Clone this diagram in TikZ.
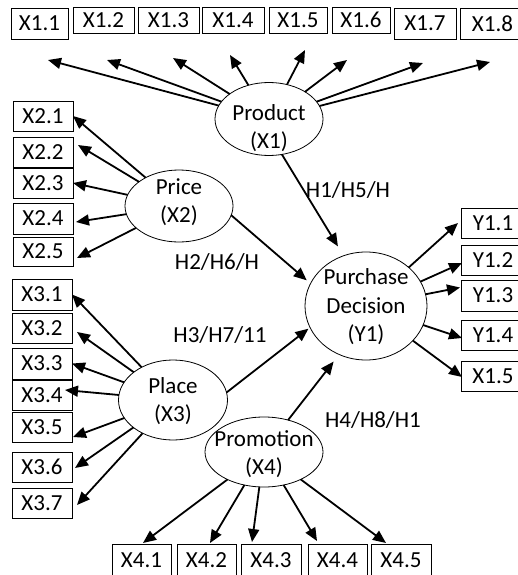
\documentclass[tikz,border=0pt]{standalone}
\usepackage{fontspec}
\setmainfont{Carlito}
\usetikzlibrary{shapes.geometric,arrows.meta}
\begin{document}
\begin{tikzpicture}[x=1pt,y=-1pt,
  box/.style={draw, line width=0.8pt, inner sep=0pt, outer sep=0pt, font=\fontsize{23}{28}\selectfont},
  ell/.style={draw, ellipse, line width=0.8pt, inner sep=0pt, outer sep=0pt},
  lbl/.style={inner sep=0pt, align=center, font=\fontsize{23}{28.5}\selectfont},
  arr/.style={line width=1.8pt, -{Triangle[length=13pt,width=11pt]}},
]
\useasboundingbox (0,0) rectangle (517,575);

% ---------- latent variables ----------
\node[ell, minimum width=108pt, minimum height=73pt] (product) at (269,119) {};
\node[lbl] (productT) at (269,128) {Product\\(X1)};
\node[ell, minimum width=108pt, minimum height=72pt] (price) at (179,206) {};
\node[lbl] (priceT) at (179,202) {Price\\(X2)};
\node[ell, minimum width=109pt, minimum height=80pt] (place) at (173,400) {};
\node[lbl] (placeT) at (173,401) {Place\\(X3)};
\node[ell, minimum width=118pt, minimum height=70pt] (promo) at (264,452) {};
\node[lbl] (promoT) at (264,454) {Promotion\\(X4)};
\node[ell, minimum width=122pt, minimum height=108pt] (purchase) at (366,306) {};
\node[lbl] (purchaseT) at (366,307) {Purchase\\Decision\\(Y1)};

% ---------- indicator boxes: top ----------
\node[box, minimum width=57pt, minimum height=31pt] (x11) at (39.5,23.5) {X1.1};
\node[box, minimum width=61pt, minimum height=26pt] (x12) at (103.5,20) {X1.2};
\node[box, minimum width=61pt, minimum height=26pt] (x13) at (168.5,20) {X1.3};
\node[box, minimum width=62pt, minimum height=26pt] (x14) at (233,20) {X1.4};
\node[box, minimum width=58pt, minimum height=26pt] (x15) at (298,20) {X1.5};
\node[box, minimum width=58pt, minimum height=26pt] (x16) at (361,20) {X1.6};
\node[box, minimum width=62pt, minimum height=31pt] (x17) at (425,23.5) {X1.7};
\node[box, minimum width=65pt, minimum height=31pt] (x18) at (492.5,23.5) {X1.8};

% ---------- indicator boxes: price ----------
\node[box, minimum width=60pt, minimum height=30pt] (x21) at (43,116) {X2.1};
\node[box, minimum width=60pt, minimum height=30pt] (x22) at (43,152) {X2.2};
\node[box, minimum width=60pt, minimum height=30pt] (x23) at (43,183) {X2.3};
\node[box, minimum width=60pt, minimum height=31pt] (x24) at (43,218.5) {X2.4};
\node[box, minimum width=60pt, minimum height=29pt] (x25) at (43,251.5) {X2.5};

% ---------- indicator boxes: place ----------
\node[box, minimum width=60pt, minimum height=31pt] (x31) at (42,294.5) {X3.1};
\node[box, minimum width=60pt, minimum height=30pt] (x32) at (42,328) {X3.2};
\node[box, minimum width=60pt, minimum height=31pt] (x33) at (42,363.5) {X3.3};
\node[box, minimum width=60pt, minimum height=30pt] (x34) at (42,395) {X3.4};
\node[box, minimum width=60pt, minimum height=30pt] (x35) at (42,427) {X3.5};
\node[box, minimum width=60pt, minimum height=30pt] (x36) at (42,467) {X3.6};
\node[box, minimum width=60pt, minimum height=30pt] (x37) at (42,503) {X3.7};

% ---------- indicator boxes: purchase decision (cut by the right edge) ----------
\node[box, minimum width=64pt, minimum height=30pt] (y11) at (493,223) {Y1.1};
\node[box, minimum width=64pt, minimum height=30pt] (y12) at (493,260) {Y1.2};
\node[box, minimum width=64pt, minimum height=31pt] (y13) at (493,295.5) {Y1.3};
\node[box, minimum width=64pt, minimum height=30pt] (y14) at (493,335) {Y1.4};
\node[box, minimum width=64pt, minimum height=30pt] (y15) at (493,376) {X1.5};

% ---------- indicator boxes: promotion ----------
\node[box, minimum width=59pt, minimum height=32pt] (x41) at (141.5,560) {X4.1};
\node[box, minimum width=59pt, minimum height=32pt] (x42) at (206.5,560) {X4.2};
\node[box, minimum width=60pt, minimum height=32pt] (x43) at (271,560) {X4.3};
\node[box, minimum width=59pt, minimum height=32pt] (x44) at (337.5,560) {X4.4};
\node[box, minimum width=60pt, minimum height=32pt] (x45) at (401,560) {X4.5};

% ---------- path labels ----------
\node[lbl] (h1) at (348,190) {H1/H5/H};
\node[lbl] (h2) at (217,262) {H2/H6/H};
\node[lbl] (h3) at (220,335) {H3/H7/11};
\node[lbl] (h4) at (373,420) {H4/H8/H1};

% ---------- tips of product arrows ----------
\coordinate (t11) at (48,60);
\coordinate (t12) at (107,60);
\coordinate (t13) at (173,58);
\coordinate (t14) at (230,55);
\coordinate (t15) at (305,50);
\coordinate (t16) at (347,60);
\coordinate (t17) at (423,63);
\coordinate (t18) at (490,62);

\foreach \t in {t11,t12,t13,t14,t15,t16,t17,t18}
  \draw[arr] (product) -- (\t);

% price indicators
\draw[arr] (price) -- (x21.east);
\draw[arr] (price) -- ([shift={(5,-7)}]x22.east);
\draw[arr] (price) -- (x23.east);
\draw[arr] (price) -- ([shift={(3,3.5)}]x24.east);
\draw[arr] (price) -- ([shift={(4,6.5)}]x25.east);

% place indicators
\draw[arr] (place) -- (x31.east);
\draw[arr] (place) -- ([shift={(5,4)}]x32.east);
\draw[arr] (place) -- (x33.east);
\draw[arr] (place) -- ([shift={(-7,-5)}]x34.east);
\draw[arr] (place) -- ([shift={(1,10)}]x35.east);
\draw[arr] (place) -- ([shift={(3,1)}]x36.east);
\draw[arr] (place) -- ([shift={(5,2)}]x37.east);

% purchase indicators
\draw[arr] (purchase) -- ([shift={(-3,0)}]y11.west);
\draw[arr] (purchase) -- ([shift={(1,3)}]y12.west);
\draw[arr] (purchase) -- ([shift={(-1,-8)}]y13.west);
\draw[arr] (purchase) -- ([shift={(1,3)}]y14.west);
\draw[arr] (purchase) -- ([shift={(1,1)}]y15.west);

% promotion indicators
\draw[arr] (promo) -- ([shift={(1.5,-1)}]x41.north);
\draw[arr] (promo) -- ([shift={(3.5,-1)}]x42.north);
\draw[arr] (promo) -- ([shift={(-19,-2)}]x43.north);
\draw[arr] (promo) -- ([shift={(-20.5,-3)}]x44.north);
\draw[arr] (promo) -- ([shift={(-15,-1)}]x45.north);

% structural paths
\draw[arr, shorten >=11pt] (product.-70) -- (purchase.114);
\draw[arr, shorten >=5pt] (price.-10) -- (purchase.158);
\draw[arr, shorten >=2pt] (place.8) -- (purchase.201);
\draw[arr, shorten >=9pt] (promo.53) -- (purchase.241);
\end{tikzpicture}
\end{document}
